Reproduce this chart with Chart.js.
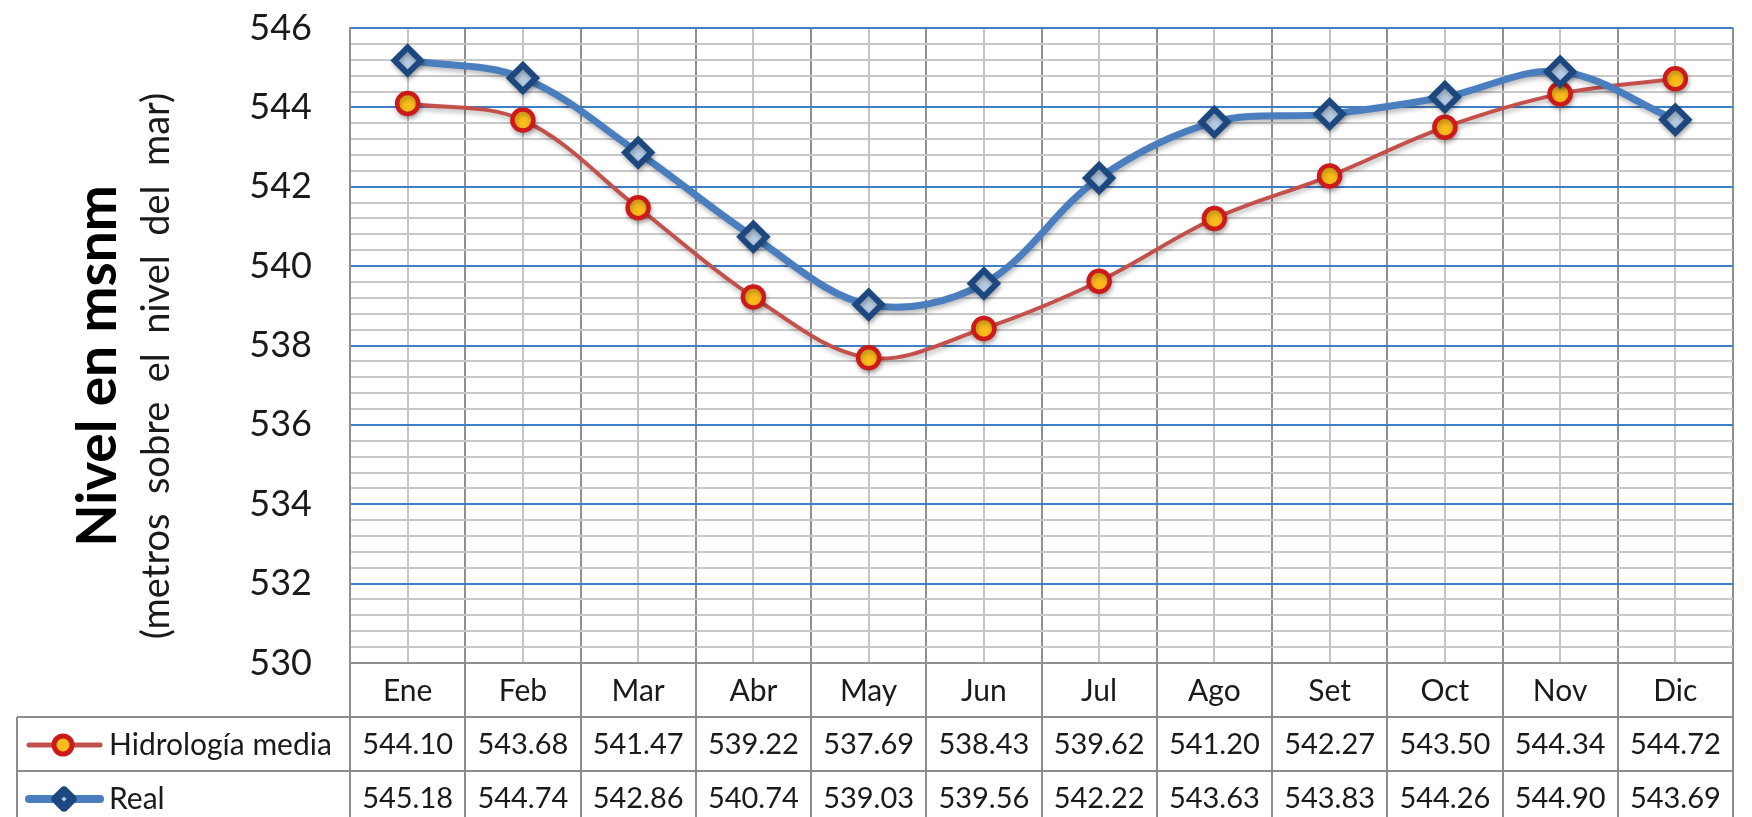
<!DOCTYPE html>
<html><head><meta charset="utf-8">
<script src="https://cdn.jsdelivr.net/npm/chart.js@4.4.1/dist/chart.umd.min.js"></script>
<style>html,body{margin:0;padding:0;background:#fff;}#wrap{position:relative;width:1752px;height:817px;}</style>
</head><body><div id="wrap"><canvas id="c" width="1752" height="817"></canvas></div>
<script>
const months = ['Ene','Feb','Mar','Abr','May','Jun','Jul','Ago','Set','Oct','Nov','Dic'];
const hidrologiaMedia = [544.10,543.68,541.47,539.22,537.69,538.43,539.62,541.20,542.27,543.50,544.34,544.72];
const real = [545.18,544.74,542.86,540.74,539.03,539.56,542.22,543.63,543.83,544.26,544.90,543.69];
const seriesNames = ['Hidrología media','Real'];
const yMin = 530, yMax = 546, yMajorStep = 2, yMinorStep = 0.4;
const yTitle = 'Nivel en msnm';
const ySubtitle = '(metros  sobre  el  nivel  del  mar)';

const FONT = 'Lato';
const TXT = '#1a1a1a';
const TABLE_LINE = '#8c8c8c';
const RED_LINE = '#c4504c', RED_BORDER = '#cc1a1a', GOLD = '#fbbc1c';
const BLUE_LINE = '#4a7ebf', BLUE_BORDER = '#1d487f', BLUE_FILL = '#b8cce4';

function isMajor(v){ const r = v / yMajorStep; return Math.abs(r - Math.round(r)) < 1e-6; }

const shadowPlugin = {
  id: 'shadow',
  beforeDatasetsDraw(chart){ const c = chart.ctx; c.save(); c.shadowColor='rgba(0,0,0,0.28)'; c.shadowBlur=5; c.shadowOffsetX=1; c.shadowOffsetY=3; },
  afterDatasetsDraw(chart){ chart.ctx.restore(); }
};

function drawCircle(ctx, x, y, r, bw, fill, stroke){
  ctx.beginPath(); ctx.arc(x, y, r, 0, Math.PI*2); ctx.fillStyle = fill; ctx.fill();
  ctx.lineWidth = bw; ctx.strokeStyle = stroke; ctx.stroke();
}
function drawDiamond(ctx, x, y, r, bw, fill, stroke){
  ctx.beginPath(); ctx.moveTo(x, y-r); ctx.lineTo(x+r, y); ctx.lineTo(x, y+r); ctx.lineTo(x-r, y); ctx.closePath();
  ctx.fillStyle = fill; ctx.fill(); ctx.lineWidth = bw; ctx.strokeStyle = stroke; ctx.lineJoin='round'; ctx.stroke();
}

const tablePlugin = {
  id: 'dataTable',
  afterDraw(chart){
    const ctx = chart.ctx, xs = chart.scales.x, area = chart.chartArea;
    const H = chart.height;
    const colW = xs.width / months.length;
    const row1 = xs.bottom, rowH = 54, row2 = row1 + rowH;
    const tableLeft = 17;
    ctx.save();
    ctx.strokeStyle = TABLE_LINE; ctx.lineWidth = 2;
    ctx.beginPath();
    for (let i = 0; i <= months.length; i++){
      const xb = Math.round(xs.left + i*colW);
      ctx.moveTo(xb, area.bottom); ctx.lineTo(xb, H);
    }
    ctx.moveTo(tableLeft, row1); ctx.lineTo(xs.right, row1);
    ctx.moveTo(tableLeft, row2); ctx.lineTo(xs.right, row2);
    ctx.moveTo(tableLeft, row1); ctx.lineTo(tableLeft, H);
    ctx.stroke();

    ctx.fillStyle = TXT; ctx.font = '29px ' + FONT; ctx.textAlign = 'center'; ctx.textBaseline = 'middle';
    const rows = [hidrologiaMedia, real];
    rows.forEach((arr, r) => {
      const cy = row1 + rowH*r + rowH/2 + 1;
      arr.forEach((v, i) => { ctx.fillText(v.toFixed(2), xs.getPixelForValue(i), cy); });
    });
    // legend keys
    const cy1 = row1 + rowH/2 + 1, cy2 = row2 + rowH/2 + 1;
    ctx.lineCap = 'round';
    ctx.strokeStyle = RED_LINE; ctx.lineWidth = 5;
    ctx.beginPath(); ctx.moveTo(29, cy1); ctx.lineTo(100, cy1); ctx.stroke();
    drawCircle(ctx, 63, cy1, 9, 5, GOLD, RED_BORDER);
    ctx.strokeStyle = BLUE_LINE; ctx.lineWidth = 8;
    ctx.beginPath(); ctx.moveTo(29, cy2); ctx.lineTo(100, cy2); ctx.stroke();
    drawDiamond(ctx, 64, cy2, 8.5, 8.5, BLUE_FILL, BLUE_BORDER);
    ctx.fillStyle = TXT; ctx.textAlign = 'left'; ctx.font = '30px ' + FONT;
    ctx.fillText(seriesNames[0], 109, cy1);
    ctx.fillText(seriesNames[1], 109, cy2);

    // y titles
    const cyT = 366;
    ctx.textBaseline = 'middle';
    ctx.save(); ctx.translate(98, cyT); ctx.rotate(-Math.PI/2);
    ctx.textAlign = 'center'; ctx.font = 'bold 55px ' + FONT; ctx.fillStyle = '#000';
    ctx.fillText(yTitle, 0, 0); ctx.restore();
    ctx.save(); ctx.translate(157, cyT); ctx.rotate(-Math.PI/2);
    ctx.textAlign = 'center'; ctx.font = '38px ' + FONT; ctx.fillStyle = TXT;
    ctx.fillText(ySubtitle, 0, 0); ctx.restore();
    ctx.restore();
  }
};

new Chart(document.getElementById('c'), {
  type: 'line',
  data: {
    labels: months,
    datasets: [
      { label: seriesNames[0], data: hidrologiaMedia, order: 1,
        borderColor: RED_LINE, borderWidth: 4, tension: 0.35, fill: false,
        pointStyle: 'circle', pointRadius: 10.5, pointHoverRadius: 10.5,
        pointBackgroundColor: GOLD, pointBorderColor: RED_BORDER, pointBorderWidth: 4.5 },
      { label: seriesNames[1], data: real, order: 0,
        borderColor: BLUE_LINE, borderWidth: 7, tension: 0.35, fill: false,
        pointStyle: 'rectRot', pointRadius: 13, pointHoverRadius: 13,
        pointBackgroundColor: BLUE_FILL, pointBorderColor: BLUE_BORDER, pointBorderWidth: 6 }
    ]
  },
  options: {
    responsive: false, animation: false, devicePixelRatio: 1,
    layout: { padding: { left: 0, top: 28, right: 10, bottom: 100 } },
    plugins: { legend: { display: false }, tooltip: { enabled: false } },
    scales: {
      x: {
        type: 'category', offset: true, position: 'bottom',
        grid: { offset: true, color: '#8f8f8f', lineWidth: 2, drawTicks: false },
        border: { display: true, color: '#8f8f8f', width: 2 },
        ticks: { font: { family: FONT, size: 30 }, color: TXT, padding: 10, maxRotation: 0, autoSkip: false },
        afterFit(s){ s.height = 54; s.paddingLeft = 0; s.paddingRight = 0; }
      },
      x2: {
        type: 'category', labels: months, offset: true, position: 'bottom',
        grid: { offset: false, color: '#c4c4c4', lineWidth: 2, drawTicks: false },
        border: { display: false },
        ticks: { display: false },
        afterFit(s){ s.height = 0; s.paddingLeft = 0; s.paddingRight = 0; }
      },
      y: {
        min: yMin, max: yMax,
        afterBuildTicks(s){
          const t = []; const n = Math.round((yMax - yMin) / yMinorStep);
          for (let i = 0; i <= n; i++) t.push({ value: Math.round((yMin + i*yMinorStep)*10)/10 });
          s.ticks = t;
        },
        grid: { color: c => (c.tick && isMajor(c.tick.value)) ? '#3f7fc6' : '#c8c8c8', lineWidth: 2, drawTicks: false },
        border: { display: true, color: '#8f8f8f', width: 2 },
        ticks: { autoSkip: false, padding: 38, font: { family: FONT, size: 36 }, color: TXT,
          callback: v => isMajor(v) ? String(Math.round(v)) : '' },
        afterFit(s){ s.width = 350; s.paddingTop = 0; s.paddingBottom = 0; }
      }
    }
  },
  plugins: [shadowPlugin, tablePlugin]
});
</script></body></html>
